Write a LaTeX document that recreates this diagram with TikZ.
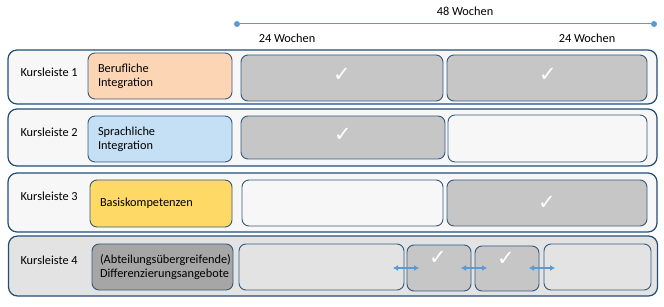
\documentclass[tikz,border=0pt]{standalone}
\usepackage{fontspec}
\setmainfont{Carlito}
\newfontfamily\symf{DejaVu Sans}
\usepackage{tikz}
\usetikzlibrary{arrows.meta, positioning}
\definecolor{rand}{HTML}{1F4E79}
\definecolor{innenrand}{HTML}{34597F}
\definecolor{hell}{HTML}{F7F7F7}
\definecolor{grau}{HTML}{C6C6C6}
\definecolor{hellgrau}{HTML}{E3E3E3}
\definecolor{dunkelgrau}{HTML}{A6A6A6}
\definecolor{pfirsich}{HTML}{FCD5B5}
\definecolor{himmel}{HTML}{C5DFF4}
\definecolor{gelb}{HTML}{FFD966}
\definecolor{linie}{HTML}{5B9BD5}
\begin{document}
\begin{tikzpicture}[x=1pt, y=-1pt, font=\fontsize{12.3}{14}\selectfont, >=Latex,
      row/.style={draw=rand, line width=1.2pt, rounded corners=9pt, fill=hell,
        minimum width=649pt, inner sep=0pt},
      b/.style={draw=innenrand, line width=0.9pt, rounded corners=7pt, inner sep=0pt},
      kurs/.style={b, align=left, inner xsep=10pt, text width=#1},
      chk/.style={text=white, font=\symf\fontsize{21}{21}\selectfont},
      dot/.style={circle, fill=linie, inner sep=0pt, minimum size=6pt},
      dpfeil/.style={<->, linie, line width=1.3pt, >={Latex[length=5pt, width=6pt]}}]
    \useasboundingbox (0,0) rectangle (664,307);
    % Zeitleiste
    \node[dot] (t0) at (237,24) {};
    \node[dot] (t1) at (654,24) {};
    \draw[linie, line width=1pt] (t0) -- (t1);
    \node (w48) at (465,11) {48 Wochen};
    \node (w24a) at (287,38) {24 Wochen};
    \node (w24b) at (587,38) {24 Wochen};
    % Kursleisten
    \node[row, minimum height=54pt] (z1) at (332.5,77) {};
    \node[row, minimum height=57pt] (z2) at (332.5,137.5) {};
    \node[row, minimum height=59pt] (z3) at (332.5,202.5) {};
    \node[row, minimum height=60pt, fill=hellgrau] (z4) at (333,266) {};
    \node[anchor=west] (l1) at (17,72) {Kursleiste 1};
    \node[anchor=west] (l2) at (17,132) {Kursleiste 2};
    \node[anchor=west] (l3) at (17,196) {Kursleiste 3};
    \node[anchor=west] (l4) at (17,260) {Kursleiste 4};
    % Angebote
    \node[kurs=124pt, fill=pfirsich, minimum height=46pt] (k1) at (160,76) {Berufliche\\Integration};
    \node[kurs=124pt, fill=himmel, minimum height=46pt] (k2) at (160,139) {Sprachliche\\Integration};
    \node[kurs=122pt, fill=gelb, minimum height=47pt] (k3) at (161,203.5) {Basiskompetenzen};
    \node[kurs=125pt, fill=dunkelgrau, minimum height=46pt, inner xsep=8pt] (k4) at (162.5,267) {(Abteilungs\"ubergreifende)\\Differenzierungsangebote};
    % Wochenbloecke
    \node[b, fill=grau, minimum width=202pt, minimum height=46pt] (r1a) at (342,78) {};
    \node[b, fill=grau, minimum width=200pt, minimum height=46pt] (r1b) at (547,78) {};
    \node[b, fill=grau, minimum width=204pt, minimum height=43pt] (r2a) at (343,137.5) {};
    \node[b, fill=hell, minimum width=199pt, minimum height=47pt] (r2b) at (547.5,138.5) {};
    \node[b, fill=hell, minimum width=201pt, minimum height=46pt] (r3a) at (342.5,203) {};
    \node[b, fill=grau, minimum width=200pt, minimum height=46pt] (r3b) at (547,203) {};
    \node[b, fill=hellgrau, minimum width=165pt, minimum height=46pt] (r4a) at (321.5,267) {};
    \node[b, fill=grau, minimum width=64pt, minimum height=46pt] (r4b) at (439,268) {};
    \node[b, fill=grau, minimum width=64pt, minimum height=45pt] (r4c) at (507,268.5) {};
    \node[b, fill=hellgrau, minimum width=107pt, minimum height=46pt] (r4d) at (597.5,267) {};
    % Haken
    \node[chk] (c1) at (342,75) {✓};
    \node[chk] (c2) at (548,75) {✓};
    \node[chk] (c3) at (343,135) {✓};
    \node[chk] (c4) at (547,203) {✓};
    \node[chk] (c5) at (438,258) {✓};
    \node[chk] (c6) at (506,259) {✓};
    % Verschiebung
    \coordinate (a1) at (393,268);
    \coordinate (a2) at (419,268);
    \coordinate (a3) at (461,268);
    \coordinate (a4) at (487,268);
    \coordinate (a5) at (529,268);
    \coordinate (a6) at (555,268);
    \draw[dpfeil] (a1) -- (a2);
    \draw[dpfeil] (a3) -- (a4);
    \draw[dpfeil] (a5) -- (a6);
\end{tikzpicture}
\end{document}
